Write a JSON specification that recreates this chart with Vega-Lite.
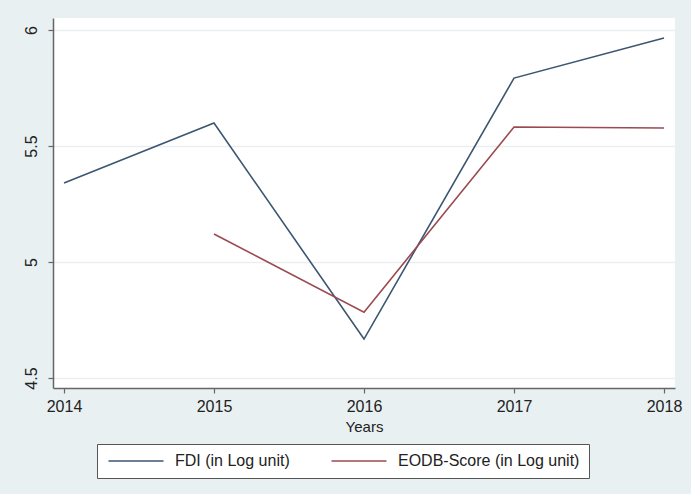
{
  "$schema": "https://vega.github.io/schema/vega-lite/v6.json",
  "autosize": {"type": "none"},
  "padding": {"left": 53, "top": 18, "right": 16, "bottom": 106},
  "width": 622,
  "height": 370,
  "background": "#e9f0f2",
  "config": {
    "view": {"fill": "white", "stroke": null},
    "font": "Liberation Sans"
  },
  "data": {
    "values": [
      {"year": 2014, "series": "FDI (in Log unit)", "value": 5.341},
      {"year": 2015, "series": "FDI (in Log unit)", "value": 5.599},
      {"year": 2016, "series": "FDI (in Log unit)", "value": 4.668},
      {"year": 2017, "series": "FDI (in Log unit)", "value": 5.793},
      {"year": 2018, "series": "FDI (in Log unit)", "value": 5.966},
      {"year": 2015, "series": "EODB-Score (in Log unit)", "value": 5.121},
      {"year": 2016, "series": "EODB-Score (in Log unit)", "value": 4.784},
      {"year": 2017, "series": "EODB-Score (in Log unit)", "value": 5.582},
      {"year": 2018, "series": "EODB-Score (in Log unit)", "value": 5.578}
    ]
  },
  "mark": {"type": "line", "strokeWidth": 1.6},
  "encoding": {
    "x": {
      "field": "year",
      "type": "quantitative",
      "scale": {"domain": [2013.9267, 2018.0733], "nice": false, "zero": false},
      "axis": {
        "values": [2014, 2015, 2016, 2017, 2018],
        "format": "d",
        "title": "Years",
        "titleFont": "Liberation Sans",
        "titleFontSize": 15,
        "titleFontWeight": "normal",
        "titleColor": "#222",
        "titlePadding": 5,
        "labelFontSize": 16,
        "labelColor": "#222",
        "labelPadding": 5,
        "grid": false,
        "domainColor": "#666",
        "domainWidth": 1.5,
        "tickColor": "#666",
        "tickSize": 5,
        "tickWidth": 1.2
      }
    },
    "y": {
      "field": "value",
      "type": "quantitative",
      "scale": {"domain": [4.457, 6.052], "nice": false, "zero": false},
      "axis": {
        "values": [4.5, 5, 5.5, 6],
        "format": ".1~f",
        "title": null,
        "labelAngle": 270,
        "labelAlign": "center",
        "labelBaseline": "bottom",
        "labelFontSize": 16,
        "labelColor": "#222",
        "labelPadding": 9,
        "grid": true,
        "gridColor": "#eaeef0",
        "gridWidth": 1.5,
        "domainColor": "#666",
        "domainWidth": 1.5,
        "tickColor": "#666",
        "tickSize": 5,
        "tickWidth": 1.2
      }
    },
    "color": {
      "field": "series",
      "type": "nominal",
      "scale": {
        "domain": ["FDI (in Log unit)", "EODB-Score (in Log unit)"],
        "range": ["#3b5670", "#9a4a50"]
      },
      "legend": {
        "title": null,
        "orient": "none",
        "legendX": 44,
        "legendY": 426,
        "direction": "horizontal",
        "columns": 2,
        "symbolType": "M-1,0H9",
        "symbolSize": 121,
        "symbolStrokeWidth": 1.4,
        "symbolFillColor": "transparent",
        "labelFontSize": 16,
        "labelColor": "#222",
        "labelLimit": 400,
        "labelOffset": 53,
        "columnPadding": 38,
        "padding": 9,
        "fillColor": "white",
        "strokeColor": "#555"
      }
    }
  }
}
